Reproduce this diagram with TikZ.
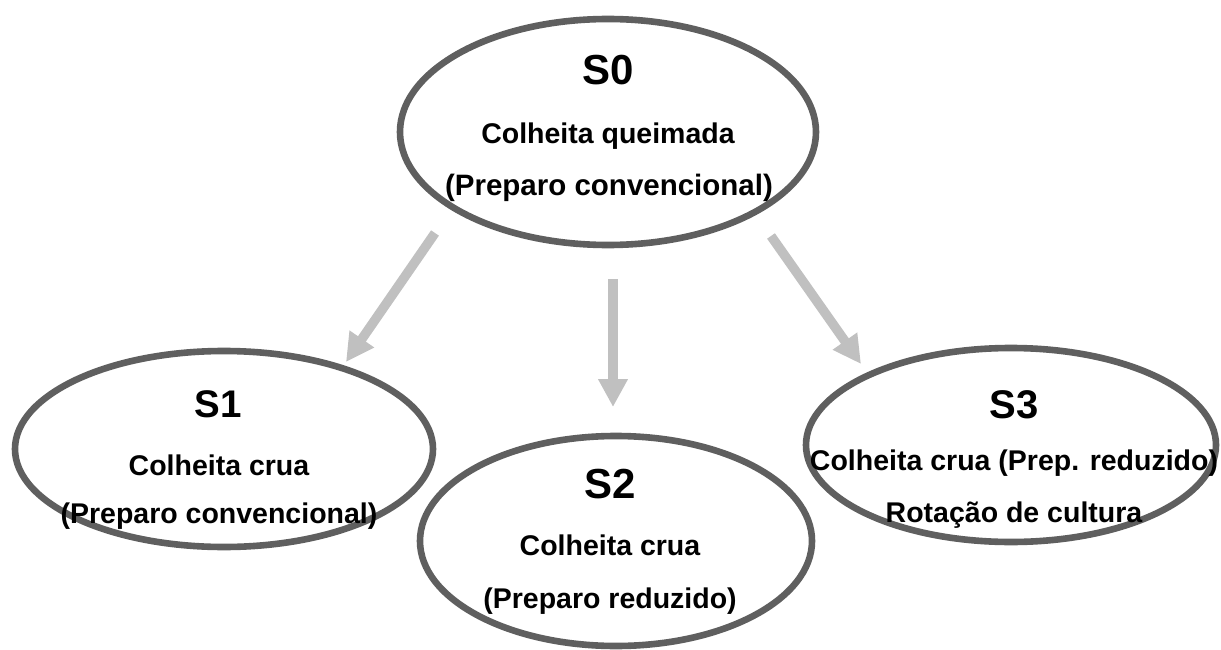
\documentclass[tikz,border=0pt]{standalone}
\usepackage{fontspec}
\setmainfont{Liberation Sans}
\usetikzlibrary{shapes.geometric,arrows.meta}
\definecolor{ringgray}{HTML}{5F5F5F}
\definecolor{arrowgray}{HTML}{C0C0C0}
\tikzset{
  ring/.style={ellipse, draw=ringgray, line width=6.6pt, inner sep=0pt, outer sep=0pt},
  bigtxt/.style={anchor=base, inner sep=0pt, font=\bfseries\fontsize{40}{48}\selectfont},
  txt/.style={anchor=base, inner sep=0pt, font=\bfseries\fontsize{28.5}{34}\selectfont},
  flow/.style={draw=arrowgray, line width=9.5pt, -{Triangle[width=28pt,length=28pt]}, arrowgray}
}
\begin{document}
\begin{tikzpicture}[x=1pt,y=-1pt]
\useasboundingbox[fill=white] (0,0) rectangle (1221,650);
% ellipses
\node[ring, minimum width=416pt, minimum height=226pt] (s0) at (608,132) {};
\node[ring, minimum width=418pt, minimum height=196pt] (s1) at (224,449) {};
\node[ring, minimum width=392pt, minimum height=210pt] (s2) at (616,541) {};
\node[ring, minimum width=410pt, minimum height=194pt] (s3) at (1011,445) {};
% texts
\node[bigtxt, font=\bfseries\fontsize{42}{50}\selectfont] (t0a) at (608,85) {S0};
\node[txt] (t0b) at (608,143) {Colheita queimada};
\node[txt, font=\bfseries\fontsize{29.5}{35}\selectfont] (t0c) at (609,196) {(Preparo convencional)};
\node[bigtxt, font=\bfseries\fontsize{38.5}{46}\selectfont] (t1a) at (218,417) {S1};
\node[txt] (t1b) at (219,475) {Colheita crua};
\node[txt] (t1c) at (219,523) {(Preparo convencional)};
\node[bigtxt, font=\bfseries\fontsize{42}{50}\selectfont] (t2a) at (610,498) {S2};
\node[txt] (t2b) at (610,555) {Colheita crua};
\node[txt] (t2c) at (610,608) {(Preparo reduzido)};
\node[bigtxt] (t3a) at (1014,418) {S3};
\node[txt] (t3b) at (1014,470) {Colheita crua (Prep. reduzido)};
\node[txt] (t3c) at (1014,522) {Rotação de cultura};
% arrow end points
\coordinate (a1s) at (435,233);
\coordinate (a1e) at (346,362);
\coordinate (a2s) at (613,279);
\coordinate (a2e) at (613,407);
\coordinate (a3s) at (771,236);
\coordinate (a3e) at (861,364);
\draw[flow] (a1s) -- (a1e);
\draw[flow] (a2s) -- (a2e);
\draw[flow] (a3s) -- (a3e);
\end{tikzpicture}
\end{document}
